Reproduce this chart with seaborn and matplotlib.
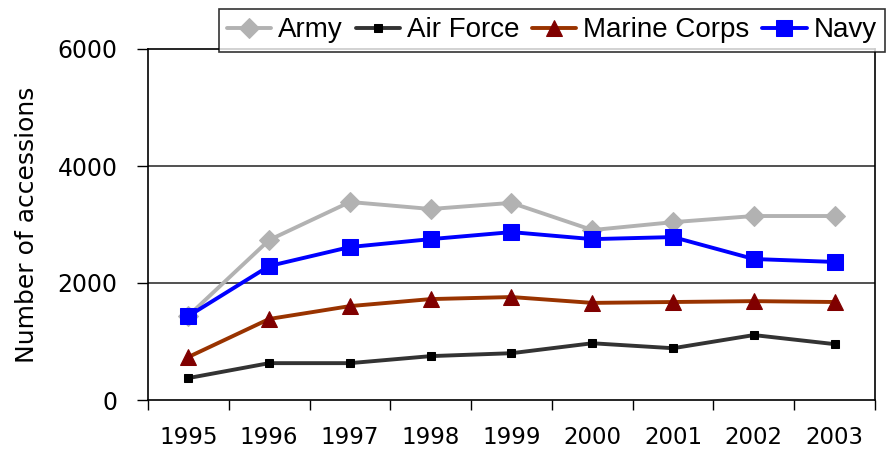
import matplotlib
matplotlib.use("Agg")
import matplotlib.pyplot as plt
import seaborn as sns
import pandas as pd
import numpy as np

years = ["1995", "1996", "1997", "1998", "1999", "2000", "2001", "2002", "2003"]
army = [1440, 2735, 3385, 3265, 3370, 2905, 3040, 3145, 3145]
air_force = [375, 630, 630, 750, 800, 970, 885, 1110, 955]
marine_corps = [735, 1385, 1605, 1725, 1760, 1660, 1675, 1690, 1675]
navy = [1435, 2290, 2615, 2750, 2870, 2750, 2785, 2410, 2360]

sns.set_style("white")
plt.rcParams['font.family'] = ['DejaVu Sans']
plt.rcParams['text.color'] = 'black'
plt.rcParams['axes.labelcolor'] = 'black'
plt.rcParams['xtick.color'] = 'black'
plt.rcParams['ytick.color'] = 'black'

fig = plt.figure(figsize=(8.87, 4.5), dpi=100)
ax = fig.add_axes([148/887, 50/450, (875-148)/887, (400-49)/450])

pos = np.arange(len(years))
series = [
    ("Army", army, dict(color="#B2B2B2", marker="D", markersize=10.5, markerfacecolor="#B2B2B2", markeredgecolor="#B2B2B2")),
    ("Air Force", air_force, dict(color="#333333", marker="s", markersize=6, markerfacecolor="black", markeredgecolor="black")),
    ("Marine Corps", marine_corps, dict(color="#993300", marker="^", markersize=12, markerfacecolor="#800000", markeredgecolor="#800000")),
    ("Navy", navy, dict(color="#0000FF", marker="s", markersize=12, markerfacecolor="#0000FF", markeredgecolor="#0000FF")),
]
for name, vals, kw in series:
    df = pd.DataFrame({"x": pos, "y": vals})
    sns.lineplot(data=df, x="x", y="y", ax=ax, label=name, linewidth=2.8, **kw)

ax.set_xlim(-0.5, len(years) - 0.5)
ax.set_ylim(0, 6000)
ax.set_yticks([0, 2000, 4000, 6000])
ax.set_yticklabels(["0", "2000", "4000", "6000"], fontsize=17)
ax.set_xticks(np.arange(-0.5, len(years), 1.0))
ax.set_xticklabels([])
ax.set_xticks(pos, minor=True)
ax.set_xticklabels(years, minor=True, fontsize=16.5)
ax.tick_params(axis="x", which="major", direction="out", length=7, width=1, color="black", bottom=True)
ax.tick_params(axis="x", which="minor", length=0, pad=19)
ax.tick_params(axis="y", direction="out", length=8, width=1, color="black", left=True, pad=14)
ax.set_xlabel("")
ax.set_ylabel("Number of accessions", fontsize=18, labelpad=13)

for y in [2000, 4000]:
    ax.axhline(y, color="#333333", linewidth=1.2, zorder=0)
for s in ax.spines.values():
    s.set_visible(True)
    s.set_color("black")
    s.set_linewidth(1.2)

leg = ax.legend(loc="upper right", bbox_to_anchor=(885/887, 1 - 9/450), bbox_transform=fig.transFigure,
                ncol=4, frameon=True, fancybox=False, edgecolor="black",
                prop={"family": "Liberation Sans", "size": 20},
                handlelength=1.6, handletextpad=0.25, columnspacing=0.45, borderpad=0.3, borderaxespad=0)
leg.get_frame().set_linewidth(1.2)

fig.savefig("out.png", dpi=100)
